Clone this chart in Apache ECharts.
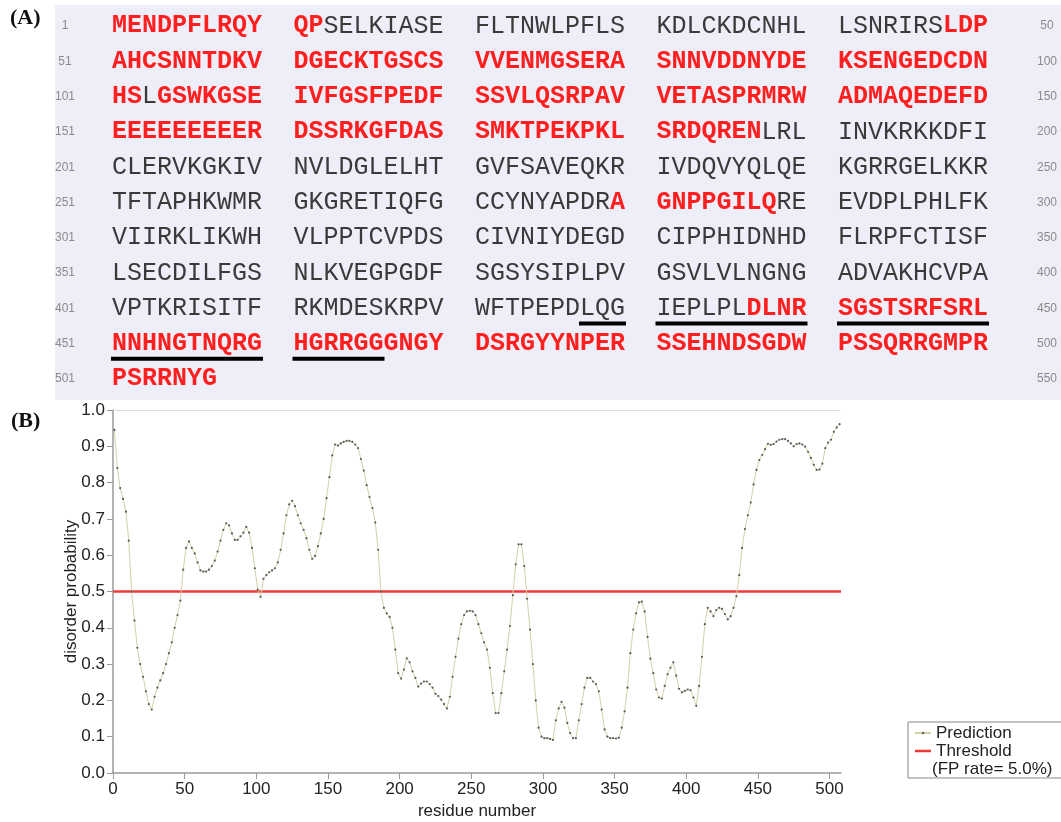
<!DOCTYPE html>
<html>
<head>
<meta charset="utf-8">
<title>Disorder prediction</title>
<script src="https://cdn.jsdelivr.net/npm/echarts@6/dist/echarts.min.js"></script>
<style>
  html, body { margin: 0; padding: 0; background: #fff; }
  #chart { width: 1061px; height: 822px; }
</style>
</head>
<body>
<div id="chart"></div>
<script>
// sequence, 50 residues per row
const sequenceRows = [
  'MENDPFLRQYQPSELKIASEFLTNWLPFLSKDLCKDCNHLLSNRIRSLDP',
  'AHCSNNTDKVDGECKTGSCSVVENMGSERASNNVDDNYDEKSENGEDCDN',
  'HSLGSWKGSEIVFGSFPEDFSSVLQSRPAVVETASPRMRWADMAQEDEFD',
  'EEEEEEEEERDSSRKGFDASSMKTPEKPKLSRDQRENLRLINVKRKKDFI',
  'CLERVKGKIVNVLDGLELHTGVFSAVEQKRIVDQVYQLQEKGRRGELKKR',
  'TFTAPHKWMRGKGRETIQFGCCYNYAPDRAGNPPGILQREEVDPLPHLFK',
  'VIIRKLIKWHVLPPTCVPDSCIVNIYDEGDCIPPHIDNHDFLRPFCTISF',
  'LSECDILFGSNLKVEGPGDFSGSYSIPLPVGSVLVLNGNGADVAKHCVPA',
  'VPTKRISITFRKMDESKRPVWFTPEPDLQGIEPLPLDLNRSGSTSRFSRL',
  'NNHNGTNQRGHGRRGGGNGYDSRGYYNPERSSEHNDSGDWPSSQRRGMPR',
  'PSRRNYG'
];
// residues predicted disordered (shown red), inclusive ranges
const disorderedRanges = [[1, 12], [48, 102], [104, 187], [280, 288], [437, 507]];
// underlined residues
const underlinedRanges = [[428, 466]];

// prediction, residues 1, 3, 5 ... 507
const predictionValues = [
  0.945, 0.84, 0.785, 0.755, 0.72, 0.64, 0.50, 0.42, 0.345, 0.30,
  0.265, 0.225, 0.19, 0.175, 0.21, 0.235, 0.255, 0.275, 0.30, 0.33,
  0.36, 0.40, 0.435, 0.475, 0.56, 0.62, 0.638, 0.62, 0.605, 0.58,
  0.558, 0.555, 0.555, 0.56, 0.57, 0.585, 0.61, 0.64, 0.67, 0.688,
  0.682, 0.66, 0.642, 0.642, 0.652, 0.662, 0.678, 0.662, 0.62, 0.564,
  0.505, 0.485, 0.535, 0.545, 0.553, 0.558, 0.564, 0.58, 0.615, 0.66,
  0.71, 0.74, 0.75, 0.735, 0.71, 0.688, 0.67, 0.647, 0.615, 0.59,
  0.598, 0.625, 0.66, 0.70, 0.757, 0.815, 0.875, 0.905, 0.902, 0.908,
  0.912, 0.915, 0.915, 0.912, 0.905, 0.895, 0.865, 0.833, 0.793, 0.76,
  0.73, 0.69, 0.615, 0.50, 0.455, 0.44, 0.43, 0.40, 0.34, 0.275,
  0.26, 0.285, 0.316, 0.305, 0.28, 0.262, 0.238, 0.246, 0.252, 0.252,
  0.245, 0.235, 0.218, 0.212, 0.202, 0.19, 0.178, 0.21, 0.265, 0.32,
  0.37, 0.41, 0.435, 0.445, 0.447, 0.445, 0.435, 0.41, 0.385, 0.36,
  0.34, 0.29, 0.22, 0.165, 0.165, 0.22, 0.28, 0.34, 0.405, 0.49,
  0.575, 0.63, 0.63, 0.57, 0.48, 0.395, 0.30, 0.20, 0.125, 0.10,
  0.096, 0.096, 0.094, 0.091, 0.145, 0.178, 0.196, 0.18, 0.138, 0.11,
  0.096, 0.096, 0.145, 0.19, 0.235, 0.262, 0.262, 0.252, 0.245, 0.225,
  0.175, 0.12, 0.10, 0.096, 0.096, 0.095, 0.097, 0.125, 0.17, 0.235,
  0.33, 0.395, 0.44, 0.47, 0.472, 0.445, 0.375, 0.315, 0.275, 0.23,
  0.208, 0.205, 0.24, 0.272, 0.29, 0.305, 0.268, 0.232, 0.222, 0.226,
  0.23, 0.228, 0.208, 0.185, 0.24, 0.32, 0.41, 0.455, 0.445, 0.432,
  0.449, 0.455, 0.452, 0.438, 0.423, 0.432, 0.455, 0.487, 0.545, 0.62,
  0.672, 0.71, 0.745, 0.795, 0.835, 0.862, 0.876, 0.892, 0.907, 0.904,
  0.906, 0.913, 0.918, 0.92, 0.92, 0.915, 0.908, 0.90, 0.906, 0.908,
  0.905, 0.899, 0.885, 0.868, 0.849, 0.835, 0.836, 0.852, 0.895, 0.91,
  0.918, 0.94, 0.952, 0.961
];
const thresholdValue = 0.5;
const xTicks = [0, 50, 100, 150, 200, 250, 300, 350, 400, 450, 500];
const xMax = 508;

// layout of panel A
const blockX0 = 112, blockStep = 181.5, charW = 15, rowY0 = 26, rowStep = 35.3;
const seqFont = '"Courier New", "Liberation Mono", monospace';
const sansFont = '"Liberation Sans", Arial, Helvetica, sans-serif';

const isDisordered = (n) => disorderedRanges.some(([a, b]) => n >= a && n <= b);
const isUnderlined = (n) => underlinedRanges.some(([a, b]) => n >= a && n <= b);

const graphics = [];
graphics.push({
  type: 'rect', silent: true, z: 0,
  shape: { x: 55, y: 5, width: 1010, height: 395 },
  style: { fill: '#eeeef9' }
});
graphics.push({
  type: 'text', z: 2,
  style: { text: '(A)', x: 10, y: 18, font: 'bold 22px "Liberation Serif", "Times New Roman", serif',
    fill: '#111', verticalAlign: 'middle', textVerticalAlign: 'middle' }
});
graphics.push({
  type: 'text', z: 2,
  style: { text: '(B)', x: 11, y: 421, font: 'bold 22px "Liberation Serif", "Times New Roman", serif',
    fill: '#111', verticalAlign: 'middle', textVerticalAlign: 'middle' }
});

sequenceRows.forEach((row, r) => {
  const y = rowY0 + r * rowStep;
  const startNo = r * 50 + 1;
  graphics.push({
    type: 'text', z: 2,
    style: { text: String(startNo), x: 65, y: y, font: '12px ' + sansFont, fill: '#8a8a8a',
      align: 'center', textAlign: 'center', verticalAlign: 'middle', textVerticalAlign: 'middle' }
  });
  graphics.push({
    type: 'text', z: 2,
    style: { text: String(startNo + 49), x: 1047, y: y, font: '12px ' + sansFont, fill: '#8a8a8a',
      align: 'center', textAlign: 'center', verticalAlign: 'middle', textVerticalAlign: 'middle' }
  });
  for (let b = 0; b < 5; b++) {
    const block = row.slice(b * 10, b * 10 + 10);
    if (!block) continue;
    const bx = blockX0 + b * blockStep;
    // split block into runs of same colour
    let i = 0;
    while (i < block.length) {
      const red = isDisordered(startNo + b * 10 + i);
      let j = i + 1;
      while (j < block.length && isDisordered(startNo + b * 10 + j) === red) j++;
      graphics.push({
        type: 'text', z: 2,
        style: {
          text: block.slice(i, j), x: bx + i * charW, y: y,
          font: (red ? 'bold ' : '') + '25px ' + seqFont,
          fill: red ? '#ff1f1f' : '#3a3a3a',
          align: 'left', textAlign: 'left', verticalAlign: 'middle', textVerticalAlign: 'middle'
        }
      });
      i = j;
    }
    // underline runs
    i = 0;
    while (i < block.length) {
      if (!isUnderlined(startNo + b * 10 + i)) { i++; continue; }
      let j = i + 1;
      while (j < block.length && isUnderlined(startNo + b * 10 + j)) j++;
      graphics.push({
        type: 'rect', z: 2, silent: true,
        shape: { x: bx + i * charW - 1, y: y + 13, width: (j - i) * charW + 2, height: 4 },
        style: { fill: '#000' }
      });
      i = j;
    }
  }
});

graphics.push({
  type: 'text', z: 5,
  style: { text: '(FP rate= 5.0%)', x: 932, y: 769, font: '17px ' + sansFont, fill: '#222',
    align: 'left', textAlign: 'left', verticalAlign: 'middle', textVerticalAlign: 'middle' }
});

const predictionData = predictionValues.map((v, i) => [1 + i * 2, v]);
const thresholdData = [[0, thresholdValue], [xMax, thresholdValue]];

const chart = echarts.init(document.getElementById('chart'), null, { renderer: 'canvas' });
chart.setOption({
  animation: false,
  backgroundColor: '#fff',
  textStyle: { fontFamily: sansFont },
  grid: { left: 113, top: 410, right: 220, bottom: 49, containLabel: false },
  legend: {
    orient: 'vertical', left: 908, top: 722,
    backgroundColor: '#fff', borderColor: '#888', borderWidth: 1,
    padding: [2, 60, 18, 6], itemGap: 0, itemWidth: 16, itemHeight: 3,
    textStyle: { fontSize: 17, color: '#222', lineHeight: 18, fontFamily: sansFont },
    data: [
      { name: 'Prediction' },
      { name: 'Threshold', icon: 'path://M0,0H16V2.5H0Z' }
    ]
  },
  xAxis: [
    {
      type: 'value', min: 0, max: xMax,
      name: 'residue number', nameLocation: 'middle', nameGap: 30, nameMoveOverlap: false,
      nameTextStyle: { fontSize: 17, color: '#222' },
      axisLine: { lineStyle: { color: '#9a9a9a', width: 1.5 } },
      axisTick: { length: 6, lineStyle: { color: '#9a9a9a' }, customValues: xTicks },
      axisLabel: { fontSize: 17, color: '#222', margin: 8, customValues: xTicks },
      splitLine: { show: false }
    },
    {
      type: 'value', position: 'top', min: 0, max: xMax,
      axisLine: { show: true, lineStyle: { color: '#d4d4dc', type: 'dotted', width: 1 } },
      axisTick: { show: false }, axisLabel: { show: false }, splitLine: { show: false }
    }
  ],
  yAxis: {
    type: 'value', min: 0, max: 1, interval: 0.1,
    name: 'disorder probability', nameLocation: 'middle', nameGap: 33, nameMoveOverlap: false,
    nameTextStyle: { fontSize: 17, color: '#222' },
    axisLine: { show: true, lineStyle: { color: '#9a9a9a', width: 1.5 } },
    axisTick: { show: true, length: 6, lineStyle: { color: '#9a9a9a' } },
    axisLabel: { fontSize: 17, color: '#222', margin: 8, formatter: (v) => v.toFixed(1) },
    splitLine: { show: false }
  },
  series: [
    {
      name: 'Threshold', type: 'line', data: thresholdData,
      symbol: 'none', lineStyle: { color: '#f03a3a', width: 2.5 },
      itemStyle: { color: '#f03a3a' }, z: 2
    },
    {
      name: 'Prediction', type: 'line', data: predictionData,
      symbol: 'circle', symbolSize: 2.2, showAllSymbol: true,
      lineStyle: { color: '#d6d0a6', width: 1 },
      itemStyle: { color: '#5a5a5a' }, z: 3
    }
  ],
  graphic: { elements: graphics }
});
</script>
</body>
</html>
